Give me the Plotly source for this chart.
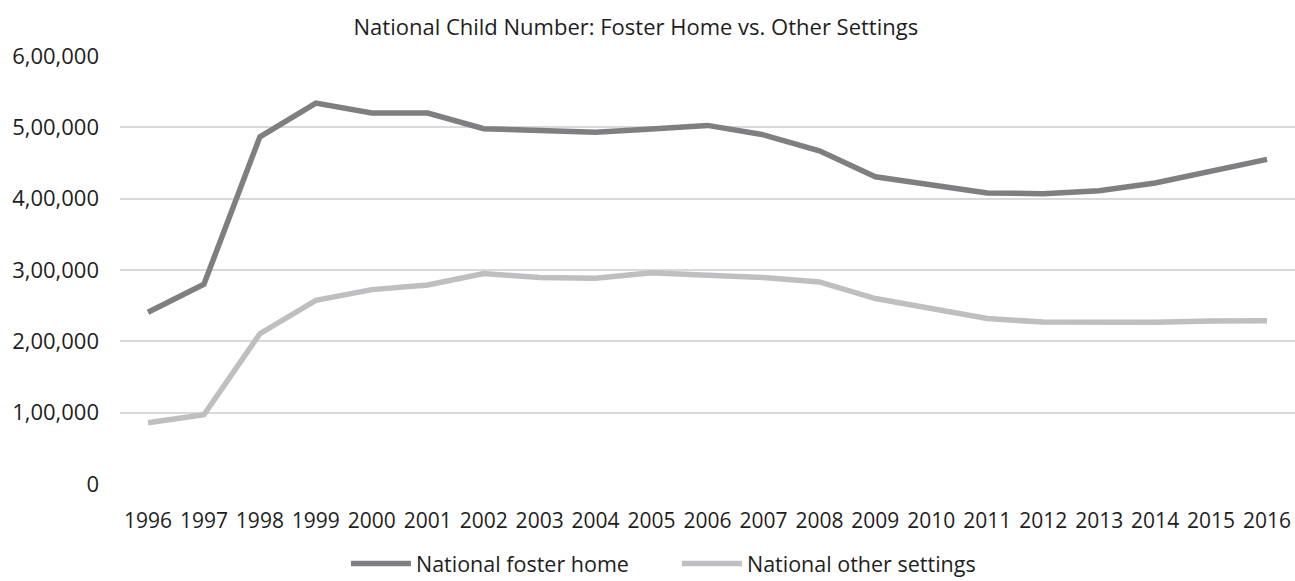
import plotly.graph_objects as go

years = [str(y) for y in range(1996, 2017)]
foster_home = [240700, 280000, 486700, 534000, 520000, 520000, 498000, 494700, 493000, 497500,
               502700, 489500, 467000, 430600, 419000, 408000, 407000, 411000, 422000, 438000, 455000]
other_settings = [85800, 97000, 210700, 257500, 272500, 279000, 295000, 289400, 288400, 296000,
                  292600, 289400, 283300, 260000, 246000, 231900, 227000, 226700, 226700, 228500, 229000]
y_tick_vals = [0, 100000, 200000, 300000, 400000, 500000, 600000]
y_tick_text = ["0", "1,00,000", "2,00,000", "3,00,000", "4,00,000", "5,00,000", "6,00,000"]

FONT = "Open Sans, sans-serif"
TXT = "#1e1e1e"

fig = go.Figure()
fig.add_trace(go.Scatter(x=years, y=foster_home, mode="lines", name="National foster home",
                         line=dict(color="#7f7f82", width=5.5)))
fig.add_trace(go.Scatter(x=years, y=other_settings, mode="lines", name="National other settings",
                         line=dict(color="#bfbfc1", width=5.5)))

fig.update_layout(
    width=1295, height=581,
    margin=dict(l=120, r=0, t=56, b=97),
    paper_bgcolor="white", plot_bgcolor="white",
    font=dict(family=FONT, size=21, color=TXT),
    title=dict(text="National Child Number: Foster Home vs. Other Settings",
               x=0.491, xanchor="center", yref="container", y=0.953, yanchor="middle",
               font=dict(family=FONT, size=22, color=TXT)),
    showlegend=True,
    legend=dict(orientation="h", x=0.474, xanchor="center", yref="container", y=0.03,
                yanchor="middle",
                font=dict(family=FONT, size=21.5, color=TXT),
                entrywidth=256, entrywidthmode="pixels",
                itemwidth=60, tracegroupgap=0, bgcolor="rgba(0,0,0,0)"),
    xaxis=dict(type="category", range=[-0.5, 20.5], showgrid=False, showline=False,
               automargin=False,
               ticks="", tickfont=dict(family=FONT, size=21, color=TXT), ticklabelstandoff=22),
    yaxis=dict(range=[0, 600000], tickvals=y_tick_vals, ticktext=y_tick_text,
               automargin=False,
               showgrid=True, gridcolor="#d9d9d9", gridwidth=1.5, zeroline=False,
               showline=False, ticks="", tickfont=dict(family=FONT, size=22, color=TXT),
               ticklabelstandoff=20),
)

fig.write_html("out.html")
